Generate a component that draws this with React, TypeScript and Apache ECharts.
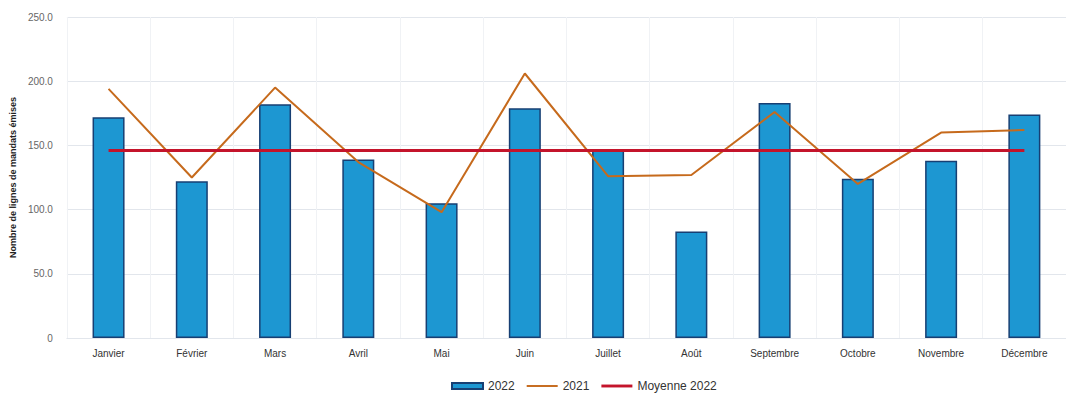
import React, { useEffect, useRef } from "react";
import * as echarts from "echarts";

const months = ["Janvier", "Février", "Mars", "Avril", "Mai", "Juin", "Juillet", "Août", "Septembre", "Octobre", "Novembre", "Décembre"];
const values2022 = [172, 122, 182, 139, 105, 179, 147, 83, 183, 124, 138, 174];
const values2021 = [194, 125, 195, 137, 98, 206, 126, 127, 176, 120, 160, 162];
const moyenne2022 = [146, 146, 146, 146, 146, 146, 146, 146, 146, 146, 146, 146];
const yTicks = [0, 50, 100, 150, 200, 250];

export default function App() {
  const ref = useRef<HTMLDivElement>(null);
  useEffect(() => {
    if (!ref.current) return;
    const chart = echarts.init(ref.current, null, { renderer: "svg" });
    const font = "'Liberation Sans', Arial, sans-serif";
    chart.setOption({
      animation: false,
      backgroundColor: "#ffffff",
      textStyle: { fontFamily: font },
      grid: { left: 66, top: 17, width: 1006, height: 321, containLabel: false },
      legend: {
        top: 375,
        left: 446,
        itemWidth: 31,
        itemHeight: 6,
        itemGap: 12,
        textStyle: { fontSize: 12, color: "#333", fontFamily: font },
        data: [
          { name: "2022", icon: "rect" },
          { name: "2021", icon: "path://M0,0M0,2H32V4H0ZM32,6" },
          { name: "Moyenne 2022", icon: "path://M0,0M0,1.5H32V4.5H0ZM32,6" },
        ],
      },
      xAxis: {
        type: "category",
        data: months,
        axisLine: { show: true, lineStyle: { color: "#e2e6ec" } },
        axisTick: { show: false },
        axisLabel: { color: "#333", fontSize: 10, margin: 10, fontFamily: font, interval: 0 },
        splitLine: { show: true, lineStyle: { color: "#f0f2f5", width: 1 } },
      },
      yAxis: {
        type: "value",
        min: yTicks[0],
        max: yTicks[yTicks.length - 1],
        interval: 50,
        name: "Nombre de lignes de mandats émises",
        nameLocation: "middle",
        nameGap: 46,
        nameRotate: 90,
        nameTextStyle: { fontSize: 9, color: "#222", fontWeight: "bold", fontFamily: font },
        axisLine: { show: false },
        axisTick: { show: false },
        axisLabel: {
          color: "#666",
          fontSize: 10,
          margin: 14,
          fontFamily: font,
          formatter: (v: number) => (v === 0 ? "0" : v.toFixed(1)),
        },
        splitLine: { show: true, lineStyle: { color: "#e2e6ec", width: 1 } },
      },
      series: [
        {
          name: "2022",
          type: "bar",
          data: values2022,
          barWidth: 32,
          itemStyle: { color: "#1d97d2", borderColor: "#173f73", borderWidth: 1.5 },
          z: 2,
        },
        {
          name: "2021",
          type: "line",
          data: values2021,
          symbol: "none",
          lineStyle: { color: "#c66a1c", width: 2 },
          itemStyle: { color: "#c66a1c" },
          z: 3,
        },
        {
          name: "Moyenne 2022",
          type: "line",
          data: moyenne2022,
          symbol: "none",
          lineStyle: { color: "#c4142b", width: 3 },
          itemStyle: { color: "#c4142b" },
          z: 4,
        },
      ],
    });
    return () => chart.dispose();
  }, []);
  return (
    <div
      ref={ref}
      style={{ position: "fixed", left: 0, top: 0, width: 1066, height: 394, background: "#fff" }}
    />
  );
}
